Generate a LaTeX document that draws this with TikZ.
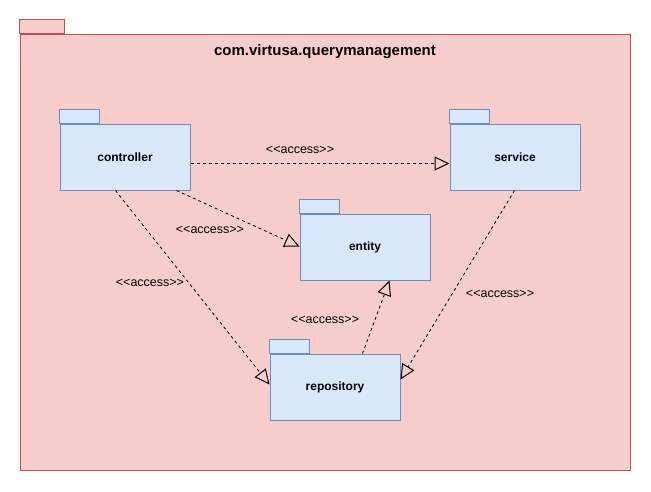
\documentclass[tikz,border=0pt]{standalone}
\usepackage{fontspec}
\setmainfont{Liberation Sans}
\usetikzlibrary{arrows.meta,calc}
\definecolor{redfill}{HTML}{F8CECC}
\definecolor{redline}{HTML}{B85450}
\definecolor{bluefill}{HTML}{DAE8FC}
\definecolor{blueline}{HTML}{6C8EBF}
\newcommand{\acc}{<\kern0pt<access>\kern0pt>}
\begin{document}
\begin{tikzpicture}[x=1pt,y=-1pt,
  outerbody/.style={draw=redline, fill=redfill, line width=1pt, minimum width=610pt, minimum height=436pt, inner sep=0pt},
  outertab/.style={draw=redline, fill=redfill, line width=1pt},
  pkgbody/.style={draw=blueline, fill=bluefill, line width=1pt, minimum width=130pt, minimum height=66pt, inner sep=0pt, font=\fontsize{12}{14}\selectfont\bfseries},
  pkgtab/.style={draw=blueline, fill=bluefill, line width=1pt},
  access/.style={dash pattern=on 3pt off 3pt, line width=0.8pt, -{Triangle[open,length=15pt,width=14pt,line width=1pt]}},
  lbl/.style={font=\fontsize{12.5}{14}\selectfont, inner sep=0pt},
  titlefont/.style={font=\fontsize{15}{17}\selectfont\bfseries, inner sep=0pt}]
\useasboundingbox (0,0) rectangle (651,491);
\fill[white] (0,0) rectangle (651,491);
% outer package
\node[outerbody] (outer) at (325,252) {};
\draw[outertab] (outer.north west) rectangle ++(45,-14);
\node[titlefont] (title) at (325,52) {com.virtusa.querymanagement};
% packages
\node[pkgbody] (ctrl) at (125,157) {controller};
\draw[pkgtab] (ctrl.north west) rectangle ++(40,-14);
\node[pkgbody] (serv) at (515,157) {service};
\draw[pkgtab] (serv.north west) rectangle ++(40,-14);
\node[pkgbody] (ent) at (365,247) {entity};
\draw[pkgtab] (ent.north west) rectangle ++(40,-14);
\node[pkgbody] (repo) at (335,387) {repository};
\draw[pkgtab] (repo.north west) rectangle ++(40,-14);
% connectors
\draw[access] ($(ctrl.north east)+(0,40)$) -- ($(serv.north west)+(0,40)$);
\draw[access] ($(ctrl.south west)+(117,0)$) -- ($(ent.north west)+(0,33)$);
\draw[access] ($(ctrl.south west)+(56,0)$) -- ($(repo.north west)+(0,31)$);
\draw[access] ($(serv.south west)+(65,0)$) -- ($(repo.north east)+(0,26)$);
\draw[access] ($(repo.north west)+(93,0)$) -- ($(ent.south west)+(90,0)$);
% labels
\node[lbl] (l1) at (300,150) {\acc};
\node[lbl] (l2) at (210,230) {\acc};
\node[lbl] (l3) at (150,283) {\acc};
\node[lbl] (l4) at (500,294) {\acc};
\node[lbl] (l5) at (325,320) {\acc};
\end{tikzpicture}
\end{document}
